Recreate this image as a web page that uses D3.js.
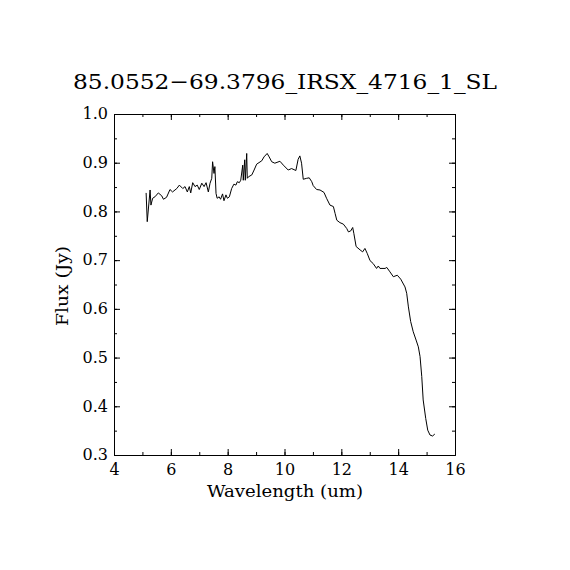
<!DOCTYPE html>
<html><head><meta charset="utf-8">
<script src="https://cdn.jsdelivr.net/npm/d3@7"></script>
<style>body{margin:0;background:#fff}</style>
</head><body>
<svg id="c" width="570" height="570"></svg>
<script>
const titleText = "85.0552\u221269.3796_IRSX_4716_1_SL";
const xLabel = "Wavelength (um)";
const yLabel = "Flux (Jy)";
const xMajorTicks = [4, 6, 8, 10, 12, 14, 16];
const yMajorTicks = [0.3, 0.4, 0.5, 0.6, 0.7, 0.8, 0.9, 1.0];
const wavelength = [5.13,5.17,5.27,5.30,5.36,5.44,5.56,5.68,5.74,5.85,5.97,6.06,6.21,6.30,6.42,6.50,6.58,6.65,6.70,6.77,6.85,6.93,7.00,7.09,7.17,7.24,7.32,7.38,7.44,7.47,7.52,7.55,7.59,7.63,7.70,7.75,7.82,7.87,7.94,7.99,8.06,8.14,8.22,8.29,8.34,8.41,8.46,8.53,8.55,8.60,8.62,8.67,8.69,8.73,8.85,8.93,9.02,9.20,9.28,9.39,9.46,9.55,9.66,9.84,9.96,10.13,10.25,10.40,10.48,10.54,10.60,10.66,10.78,10.87,10.96,11.01,11.13,11.25,11.39,11.48,11.60,11.72,11.78,11.84,11.95,12.07,12.19,12.25,12.33,12.40,12.44,12.52,12.66,12.75,12.83,12.91,13.01,13.12,13.24,13.30,13.36,13.54,13.60,13.71,13.83,13.97,14.09,14.24,14.30,14.36,14.44,14.53,14.63,14.71,14.77,14.83,14.88,14.97,15.04,15.12,15.21,15.29];
const flux = [0.838,0.779,0.844,0.813,0.827,0.830,0.838,0.832,0.825,0.829,0.845,0.840,0.847,0.854,0.847,0.851,0.840,0.851,0.838,0.859,0.851,0.854,0.845,0.858,0.851,0.859,0.840,0.858,0.868,0.902,0.878,0.892,0.837,0.827,0.830,0.825,0.836,0.822,0.834,0.827,0.830,0.847,0.856,0.854,0.861,0.859,0.864,0.895,0.864,0.906,0.864,0.919,0.868,0.871,0.875,0.885,0.897,0.904,0.912,0.919,0.912,0.902,0.899,0.903,0.895,0.885,0.888,0.884,0.907,0.914,0.899,0.866,0.868,0.869,0.861,0.853,0.845,0.844,0.839,0.827,0.813,0.810,0.796,0.782,0.777,0.774,0.765,0.758,0.760,0.767,0.755,0.728,0.721,0.717,0.724,0.714,0.699,0.693,0.683,0.688,0.683,0.683,0.685,0.676,0.666,0.669,0.661,0.645,0.632,0.604,0.574,0.553,0.536,0.522,0.502,0.461,0.413,0.375,0.351,0.341,0.339,0.343];

const FONT = "DejaVu Serif";
const svg = d3.select("#c");
const L = 114, R = 455, T = 114, B = 455;
const x = d3.scaleLinear().domain([4, 16]).range([L, R]);
const y = d3.scaleLinear().domain([0.3, 1.0]).range([B, T]);
const xMinor = d3.range(4, 16.01, 1);
const yMinor = d3.range(0.3, 1.001, 0.05).map(v => +v.toFixed(2));

function axis(gen, scale, ticks, size, transform, labels) {
  const g = svg.append("g").attr("transform", transform)
    .call(gen(scale).tickValues(ticks).tickSize(size).tickSizeOuter(0)
      .tickPadding(labels ? 7 : 0).tickFormat(labels ? labels : ""));
  g.select(".domain").attr("stroke", "#000").attr("stroke-width", 1);
  g.selectAll(".tick line").attr("stroke", "#000").attr("stroke-width", 1);
  g.selectAll("text").attr("font-family", FONT).attr("font-size", 16).attr("fill", "#000");
  return g;
}
// bottom
axis(d3.axisBottom, x, xMinor, -3, `translate(0,${B})`);
const gb = axis(d3.axisBottom, x, xMajorTicks, -6, `translate(0,${B})`, d3.format("d"));
gb.selectAll(".tick text").attr("dy", null).attr("y", 20);
// top
axis(d3.axisTop, x, xMinor, -3, `translate(0,${T})`);
axis(d3.axisTop, x, xMajorTicks, -6, `translate(0,${T})`);
// left
axis(d3.axisLeft, y, yMinor, -3, `translate(${L},0)`);
const gl = axis(d3.axisLeft, y, yMajorTicks, -6, `translate(${L},0)`, d3.format(".1f"));
gl.selectAll(".tick text").attr("x", -6).attr("dy", "0.3em");
// right
axis(d3.axisRight, y, yMinor, -3, `translate(${R},0)`);
axis(d3.axisRight, y, yMajorTicks, -6, `translate(${R},0)`);

// data line
const line = d3.line().x((d, i) => x(wavelength[i])).y(d => y(d));
svg.append("path").datum(flux).attr("d", line)
  .attr("fill", "none").attr("stroke", "#000").attr("stroke-width", 1);

// title
svg.append("text").attr("x", 285).attr("y", 89).attr("text-anchor", "middle")
  .attr("font-family", FONT).attr("font-size", 21)
  .attr("textLength", 424).attr("lengthAdjust", "spacingAndGlyphs").text(titleText);
// x label
svg.append("text").attr("x", 285).attr("y", 497).attr("text-anchor", "middle")
  .attr("font-family", FONT).attr("font-size", 17)
  .attr("textLength", 156).attr("lengthAdjust", "spacingAndGlyphs").text(xLabel);
// y label
svg.append("text").attr("transform", "translate(68,286) rotate(-90)").attr("text-anchor", "middle")
  .attr("font-family", FONT).attr("font-size", 17)
  .attr("textLength", 80).attr("lengthAdjust", "spacingAndGlyphs").text(yLabel);
</script>
</body></html>
